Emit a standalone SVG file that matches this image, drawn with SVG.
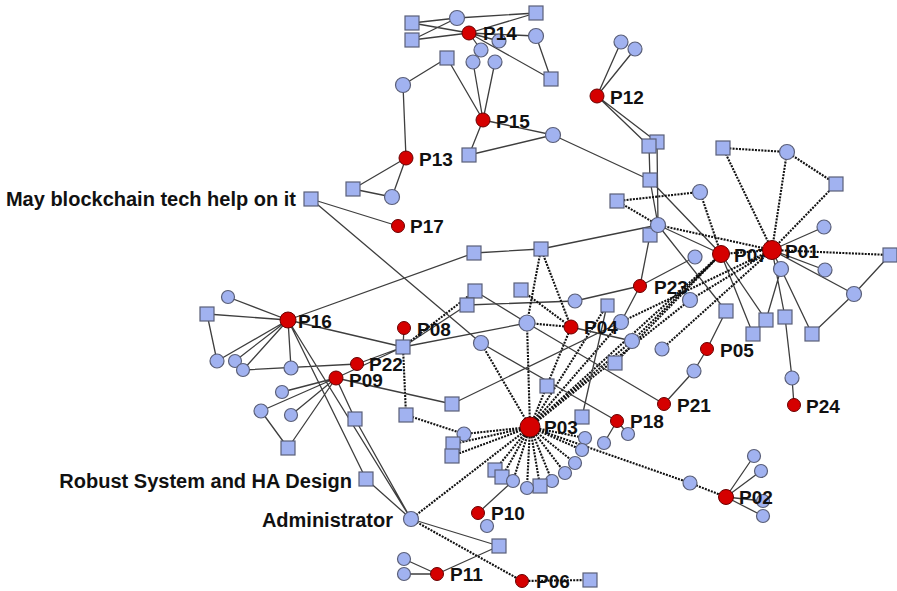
<svg xmlns="http://www.w3.org/2000/svg" width="897" height="591" viewBox="0 0 897 591">
<style>
.e{stroke:#3e3e3e;stroke-width:1.3;fill:none}
.d{stroke:#111;stroke-width:2.1;stroke-dasharray:2 1.2;fill:none}
.b{fill:#a1b2f0;stroke:#5a5f78;stroke-width:1.2}
.r{fill:#d50000;stroke:#6a0000;stroke-width:1}
.t{font-family:"Liberation Sans",Arial,sans-serif;font-weight:bold;font-size:19px;fill:#111}
.L{font-size:20px}
</style>
<rect width="897" height="591" fill="#fff"/>
<g id="edges">
<path class="e" d="M412 23L457 18M412 23L469 33M412 40L457 18M412 40L469 33M457 18L536 13M469 33L536 13M469 33L536 36M469 33L551 79M536 36L551 79M469 33L499 41M469 33L481 50"/>
<path class="e" d="M483 120L447 58M483 120L473 62M483 120L495 62M483 120L553 135M483 120L469 155M469 155L553 135M553 135L650 180M447 58L403 85M403 85L406 158M406 158L353 189M406 158L392 197M353 189L392 197"/>
<path class="e" d="M597 96L621 42M597 96L635 49M597 96L649 146M597 96L657 142M649 146L650 180M657 142L658 225M650 180L658 225M650 180L721 254"/>
<path class="d" d="M723 148L787 152M723 148L772 250M787 152L772 250M787 152L836 184M836 184L772 250M617 201L700 192M700 192L721 254M617 201L658 225M658 225L772 250M721 254L772 250M772 250L890 255"/>
<path class="e" d="M658 225L721 254M772 250L824 227M772 250L825 270M772 250L781 269M772 250L854 294M854 294L890 255M854 294L812 334M781 269L766 320M781 269L812 334M772 250L785 317M785 317L792 378M792 378L794 405M658 225L726 311M726 311L707 349M707 349L694 371M694 371L664 404M721 254L753 334M721 254L766 320M650 235L640 286M640 286L621 322M640 286L695 257M640 286L575 301M575 301L467 305M541 249L658 225M474 253L541 249M288 320L474 253"/>
<path class="d" d="M530 427L721 254M530 427L690 300M690 300L772 250M530 427L621 322M621 322L772 250M530 427L632 341M632 341L721 254M662 349L772 250M615 363L721 254M530 427L607 305"/>
<path class="d" d="M541 249L527 323M541 249L571 327M521 290L571 327M527 323L571 327M527 323L530 427M571 327L530 427M481 343L530 427M403 347L475 291M403 347L406 415M406 415L464 434"/>
<path class="e" d="M475 291L527 323M527 323L664 404M571 327L632 341M403 347L527 323M403 347L404 328M403 347L467 305M607 305L582 417M481 343L617 421M311 199L481 343M311 199L398 226M336 378L452 404M452 404L621 322"/>
<path class="e" d="M288 320L228 297M288 320L207 314M207 314L217 361M288 320L217 361M288 320L235 361M288 320L243 370M288 320L291 368M288 320L403 347M288 320L366 479M288 320L411 519M357 364L403 347M357 364L243 370M336 378L403 347M336 378L282 392M336 378L261 411M336 378L291 415M336 378L288 448M261 411L288 448M336 378L355 419M355 419L411 519M366 479L411 519"/>
<path class="d" d="M411 519L530 427M411 519L522 581M522 581L590 580"/>
<path class="e" d="M411 519L499 546M437 574L499 546M437 574L404 559M437 574L404 574M478 513L513 481M617 421L604 443M617 421L628 434"/>
<path class="d" d="M530 427L464 434M530 427L453 444M530 427L452 456M530 427L495 470M530 427L502 477M530 427L513 481M530 427L527 488M530 427L540 486M530 427L552 481M530 427L565 473M530 427L575 463M530 427L582 450M530 427L585 438M530 427L690 483M690 483L726 497"/>
<path class="e" d="M726 497L754 456M726 497L761 471M726 497L763 501M726 497L763 516"/>
</g>
<g id="nodes">
<g id="n_s1"><rect class="b" x="405" y="16" width="14" height="14"/></g>
<g id="n_s2"><rect class="b" x="405" y="33" width="14" height="14"/></g>
<g id="n_c1"><circle class="b" cx="457" cy="18" r="7.5"/></g>
<g id="n_s3"><rect class="b" x="529" y="6" width="14" height="14"/></g>
<g id="n_c2"><circle class="b" cx="536" cy="36" r="7.5"/></g>
<g id="n_c3"><circle class="b" cx="499" cy="41" r="7"/></g>
<g id="n_c4"><circle class="b" cx="481" cy="50" r="7"/></g>
<g id="n_c5"><circle class="b" cx="473" cy="62" r="7"/></g>
<g id="n_c6"><circle class="b" cx="495" cy="62" r="7"/></g>
<g id="n_s4"><rect class="b" x="544" y="72" width="14" height="14"/></g>
<g id="n_s5"><rect class="b" x="440" y="51" width="14" height="14"/></g>
<g id="n_c7"><circle class="b" cx="403" cy="85" r="7.5"/></g>
<g id="n_c8"><circle class="b" cx="553" cy="135" r="7.5"/></g>
<g id="n_s6"><rect class="b" x="462" y="148" width="14" height="14"/></g>
<g id="n_s7"><rect class="b" x="346" y="182" width="14" height="14"/></g>
<g id="n_c9"><circle class="b" cx="392" cy="197" r="7.5"/></g>
<g id="n_c10"><circle class="b" cx="621" cy="42" r="7"/></g>
<g id="n_c11"><circle class="b" cx="635" cy="49" r="7"/></g>
<g id="n_s9"><rect class="b" x="650" y="135" width="14" height="14"/></g>
<g id="n_s8"><rect class="b" x="642" y="139" width="14" height="14"/></g>
<g id="n_s10"><rect class="b" x="643" y="173" width="14" height="14"/></g>
<g id="n_s11"><rect class="b" x="716" y="141" width="14" height="14"/></g>
<g id="n_c12"><circle class="b" cx="787" cy="152" r="7.5"/></g>
<g id="n_s12"><rect class="b" x="829" y="177" width="14" height="14"/></g>
<g id="n_c13"><circle class="b" cx="700" cy="192" r="7.5"/></g>
<g id="n_s13"><rect class="b" x="610" y="194" width="14" height="14"/></g>
<g id="n_s14"><rect class="b" x="643" y="228" width="14" height="14"/></g>
<g id="n_c14"><circle class="b" cx="658" cy="225" r="7.5"/></g>
<g id="n_c15"><circle class="b" cx="824" cy="227" r="7"/></g>
<g id="n_c16"><circle class="b" cx="781" cy="269" r="7.5"/></g>
<g id="n_c17"><circle class="b" cx="825" cy="270" r="7"/></g>
<g id="n_s15"><rect class="b" x="883" y="248" width="14" height="14"/></g>
<g id="n_c18"><circle class="b" cx="854" cy="294" r="7.5"/></g>
<g id="n_s16"><rect class="b" x="805" y="327" width="14" height="14"/></g>
<g id="n_c19"><circle class="b" cx="695" cy="257" r="7"/></g>
<g id="n_c20"><circle class="b" cx="690" cy="300" r="7.5"/></g>
<g id="n_s17"><rect class="b" x="601" y="299" width="13" height="13"/></g>
<g id="n_c21"><circle class="b" cx="621" cy="322" r="7.5"/></g>
<g id="n_c22"><circle class="b" cx="632" cy="341" r="7.5"/></g>
<g id="n_s18"><rect class="b" x="719" y="304" width="14" height="14"/></g>
<g id="n_s19"><rect class="b" x="759" y="313" width="14" height="14"/></g>
<g id="n_s20"><rect class="b" x="778" y="310" width="14" height="14"/></g>
<g id="n_s21"><rect class="b" x="746" y="327" width="14" height="14"/></g>
<g id="n_c23"><circle class="b" cx="662" cy="349" r="7"/></g>
<g id="n_c24"><circle class="b" cx="694" cy="371" r="7"/></g>
<g id="n_c25"><circle class="b" cx="792" cy="378" r="7"/></g>
<g id="n_s22"><rect class="b" x="608" y="356" width="14" height="14"/></g>
<g id="n_s23"><rect class="b" x="304" y="192" width="14" height="14"/></g>
<g id="n_s24"><rect class="b" x="467" y="246" width="14" height="14"/></g>
<g id="n_s25"><rect class="b" x="534" y="242" width="14" height="14"/></g>
<g id="n_s26"><rect class="b" x="468" y="284" width="14" height="14"/></g>
<g id="n_s28"><rect class="b" x="460" y="298" width="14" height="14"/></g>
<g id="n_s27"><rect class="b" x="514" y="283" width="14" height="14"/></g>
<g id="n_c26"><circle class="b" cx="575" cy="301" r="7"/></g>
<g id="n_c27"><circle class="b" cx="527" cy="323" r="8"/></g>
<g id="n_s29"><rect class="b" x="396" y="340" width="14" height="14"/></g>
<g id="n_c28"><circle class="b" cx="481" cy="343" r="7.5"/></g>
<g id="n_s30"><rect class="b" x="540" y="379" width="14" height="14"/></g>
<g id="n_s31"><rect class="b" x="445" y="397" width="14" height="14"/></g>
<g id="n_s32"><rect class="b" x="399" y="408" width="14" height="14"/></g>
<g id="n_c29"><circle class="b" cx="228" cy="297" r="6.5"/></g>
<g id="n_s33"><rect class="b" x="200" y="307" width="14" height="14"/></g>
<g id="n_c30"><circle class="b" cx="217" cy="361" r="7"/></g>
<g id="n_c31"><circle class="b" cx="235" cy="361" r="6.5"/></g>
<g id="n_c32"><circle class="b" cx="243" cy="370" r="6.5"/></g>
<g id="n_c33"><circle class="b" cx="291" cy="368" r="7"/></g>
<g id="n_c34"><circle class="b" cx="282" cy="392" r="6.5"/></g>
<g id="n_c35"><circle class="b" cx="261" cy="411" r="7"/></g>
<g id="n_c36"><circle class="b" cx="291" cy="415" r="6.5"/></g>
<g id="n_s34"><rect class="b" x="281" y="441" width="14" height="14"/></g>
<g id="n_s35"><rect class="b" x="348" y="412" width="14" height="14"/></g>
<g id="n_s36"><rect class="b" x="359" y="472" width="14" height="14"/></g>
<g id="n_c37"><circle class="b" cx="411" cy="519" r="7.5"/></g>
<g id="n_c38"><circle class="b" cx="464" cy="434" r="7"/></g>
<g id="n_s37"><rect class="b" x="446" y="437" width="14" height="14"/></g>
<g id="n_s38"><rect class="b" x="445" y="449" width="14" height="14"/></g>
<g id="n_s39"><rect class="b" x="575" y="410" width="14" height="14"/></g>
<g id="n_c39"><circle class="b" cx="604" cy="443" r="6.5"/></g>
<g id="n_c40"><circle class="b" cx="628" cy="434" r="6.5"/></g>
<g id="n_c41"><circle class="b" cx="585" cy="438" r="6.5"/></g>
<g id="n_c42"><circle class="b" cx="582" cy="450" r="6.5"/></g>
<g id="n_c43"><circle class="b" cx="575" cy="463" r="6.5"/></g>
<g id="n_c44"><circle class="b" cx="565" cy="473" r="6.5"/></g>
<g id="n_c45"><circle class="b" cx="552" cy="481" r="6.5"/></g>
<g id="n_s40"><rect class="b" x="533" y="479" width="14" height="14"/></g>
<g id="n_c46"><circle class="b" cx="527" cy="488" r="6.5"/></g>
<g id="n_s42"><rect class="b" x="488" y="463" width="14" height="14"/></g>
<g id="n_s41"><rect class="b" x="495" y="470" width="14" height="14"/></g>
<g id="n_c47"><circle class="b" cx="513" cy="481" r="6.5"/></g>
<g id="n_c48"><circle class="b" cx="487" cy="526" r="6.5"/></g>
<g id="n_s43"><rect class="b" x="492" y="539" width="14" height="14"/></g>
<g id="n_c49"><circle class="b" cx="404" cy="559" r="6.5"/></g>
<g id="n_c50"><circle class="b" cx="404" cy="574" r="6.5"/></g>
<g id="n_s44"><rect class="b" x="583" y="573" width="14" height="14"/></g>
<g id="n_c51"><circle class="b" cx="690" cy="483" r="7"/></g>
<g id="n_c52"><circle class="b" cx="754" cy="456" r="6.5"/></g>
<g id="n_c53"><circle class="b" cx="761" cy="471" r="6.5"/></g>
<g id="n_c54"><circle class="b" cx="763" cy="501" r="6.5"/></g>
<g id="n_c55"><circle class="b" cx="763" cy="516" r="6.5"/></g>
<g id="P14"><circle class="r" cx="469" cy="33" r="7"/><text class="t" x="483" y="40">P14</text></g>
<g id="P15"><circle class="r" cx="483" cy="120" r="7"/><text class="t" x="496" y="128">P15</text></g>
<g id="P13"><circle class="r" cx="406" cy="158" r="7"/><text class="t" x="419" y="166">P13</text></g>
<g id="P12"><circle class="r" cx="597" cy="96" r="7"/><text class="t" x="610" y="104">P12</text></g>
<g id="P17"><circle class="r" cx="398" cy="226" r="6.5"/><text class="t" x="410" y="233">P17</text></g>
<g id="P07"><circle class="r" cx="721" cy="254" r="8.5"/><text class="t" x="734" y="262">P07</text></g>
<g id="P01"><circle class="r" cx="772" cy="250" r="9.5"/><text class="t" x="785" y="258">P01</text></g>
<g id="P23"><circle class="r" cx="640" cy="286" r="6.5"/><text class="t" x="654" y="294">P23</text></g>
<g id="P04"><circle class="r" cx="571" cy="327" r="7"/><text class="t" x="584" y="334">P04</text></g>
<g id="P08"><circle class="r" cx="404" cy="328" r="6.5"/><text class="t" x="417" y="336">P08</text></g>
<g id="P16"><circle class="r" cx="288" cy="320" r="8"/><text class="t" x="298" y="328">P16</text></g>
<g id="P22"><circle class="r" cx="357" cy="364" r="6.5"/><text class="t" x="369" y="371">P22</text></g>
<g id="P09"><circle class="r" cx="336" cy="378" r="7"/><text class="t" x="349" y="387">P09</text></g>
<g id="P05"><circle class="r" cx="707" cy="349" r="6.5"/><text class="t" x="720" y="357">P05</text></g>
<g id="P24"><circle class="r" cx="794" cy="405" r="6.5"/><text class="t" x="806" y="413">P24</text></g>
<g id="P21"><circle class="r" cx="664" cy="404" r="6.5"/><text class="t" x="677" y="412">P21</text></g>
<g id="P18"><circle class="r" cx="617" cy="421" r="6.5"/><text class="t" x="630" y="428">P18</text></g>
<g id="P03"><circle class="r" cx="530" cy="427" r="10"/><text class="t" x="544" y="434">P03</text></g>
<g id="P02"><circle class="r" cx="726" cy="497" r="7.5"/><text class="t" x="739" y="504">P02</text></g>
<g id="P10"><circle class="r" cx="478" cy="513" r="6.5"/><text class="t" x="491" y="520">P10</text></g>
<g id="P11"><circle class="r" cx="437" cy="574" r="6.5"/><text class="t" x="450" y="581">P11</text></g>
<g id="P06"><circle class="r" cx="522" cy="581" r="6.5"/><text class="t" x="536" y="588">P06</text></g>
<g id="lbl_blockchain"><text class="t L" x="296" y="206" text-anchor="end">May blockchain tech help on it</text></g>
<g id="lbl_robust"><text class="t L" x="352" y="488" text-anchor="end">Robust System and HA Design</text></g>
<g id="lbl_admin"><text class="t L" x="393" y="527" text-anchor="end">Administrator</text></g>
</g>
</svg>
